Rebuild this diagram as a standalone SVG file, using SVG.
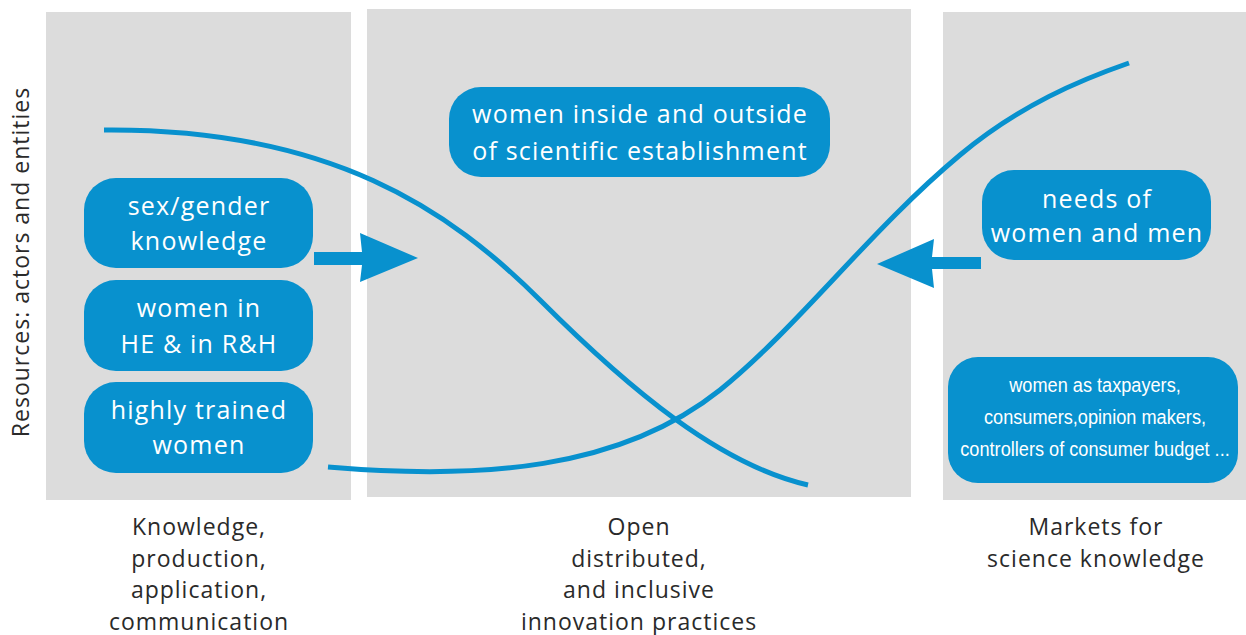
<svg xmlns="http://www.w3.org/2000/svg" width="1246" height="635" viewBox="0 0 1246 635">
<defs>
<style>
.panel{fill:#dcdcdc}
.box{fill:#0891ce}
.bt{font-family:"Open Sans","Noto Sans",sans-serif;font-size:25px;fill:#ffffff;text-anchor:middle;letter-spacing:1.2px}
.ct{font-family:"Liberation Sans",sans-serif;font-size:21px;fill:#ffffff;text-anchor:middle}
.lab{font-family:"Open Sans","Noto Sans",sans-serif;font-size:23px;fill:#2a2a2a;text-anchor:middle;letter-spacing:1px}
.curve{fill:none;stroke:#0891ce;stroke-width:5}
.arr{fill:#0891ce}
</style>
</defs>
<rect width="1246" height="635" fill="#ffffff"/>
<g id="panels">
<rect class="panel" x="46" y="12" width="305" height="488"/>
<rect class="panel" x="367" y="9" width="544" height="488"/>
<rect class="panel" x="943" y="12" width="303" height="488"/>
</g>
<g id="connectors">
<path class="curve" d="M104,130 C330,128 450,210 540,300 S720,465 808,485"/>
<path class="curve" d="M328,467 C480,480 620,470 720,390 C800,325 870,230 960,155 C1020,105 1080,80 1129,63"/>
<path class="arr" d="M314,252 L362,252 L360,233 L418,258 L360,282 L362,265 L314,265 Z"/>
<path class="arr" d="M981,257 L932,257 L934,239 L877,264 L934,288 L932,269 L981,269 Z"/>
</g>
<g id="node-sexgender">
<rect class="box" x="84" y="178" width="229" height="90" rx="32"/>
<text class="bt" x="199" y="215">sex/gender</text>
<text class="bt" x="199" y="250">knowledge</text>
</g>
<g id="node-womenin">
<rect class="box" x="84" y="280" width="229" height="91" rx="32"/>
<text class="bt" x="199" y="317">women in</text>
<text class="bt" x="199" y="353">HE &amp; in R&amp;H</text>
</g>
<g id="node-highly">
<rect class="box" x="84" y="382" width="229" height="91" rx="32"/>
<text class="bt" x="199" y="419">highly trained</text>
<text class="bt" x="199" y="454">women</text>
</g>
<g id="node-inside">
<rect class="box" x="449" y="87" width="381" height="90" rx="32"/>
<text class="bt" x="640" y="123">women inside and outside</text>
<text class="bt" x="640" y="160">of scientific establishment</text>
</g>
<g id="node-needs">
<rect class="box" x="982" y="170" width="229" height="90" rx="32"/>
<text class="bt" x="1097" y="208">needs of</text>
<text class="bt" x="1097" y="242">women and men</text>
</g>
<g id="node-taxpayers">
<rect class="box" x="948" y="357" width="290" height="126" rx="30"/>
<g transform="translate(1095,0) scale(0.865,1)">
<text class="ct" x="0" y="392">women as taxpayers,</text>
<text class="ct" x="0" y="424">consumers,opinion makers,</text>
<text class="ct" x="0" y="456">controllers of consumer budget ...</text>
</g>
</g>
<g id="labels">
<text class="lab" transform="translate(29,262) rotate(-90)">Resources: actors and entities</text>
<text class="lab" x="199" y="535">Knowledge,</text>
<text class="lab" x="199" y="567">production,</text>
<text class="lab" x="199" y="598">application,</text>
<text class="lab" x="199" y="630">communication</text>
<text class="lab" x="639" y="535">Open</text>
<text class="lab" x="639" y="567">distributed,</text>
<text class="lab" x="639" y="598">and inclusive</text>
<text class="lab" x="639" y="630">innovation practices</text>
<text class="lab" x="1096" y="535">Markets for</text>
<text class="lab" x="1096" y="567">science knowledge</text>
</g>
</svg>
